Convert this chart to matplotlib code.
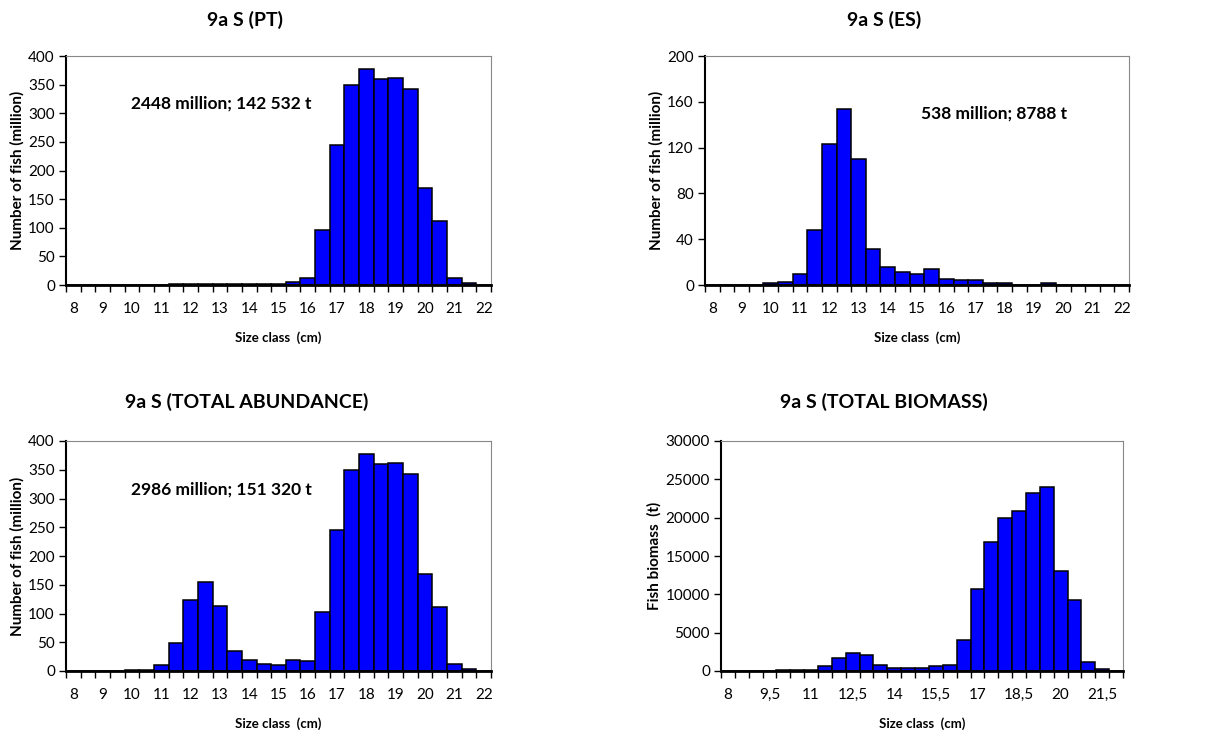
import numpy as np
import matplotlib
matplotlib.use("Agg")
import matplotlib.pyplot as plt

plt.rcParams['font.family'] = ['Lato', 'DejaVu Sans']

# size classes (cm), 0.5 cm steps
sizes = [8, 8.5, 9, 9.5, 10, 10.5, 11, 11.5, 12, 12.5, 13, 13.5, 14, 14.5, 15,
         15.5, 16, 16.5, 17, 17.5, 18, 18.5, 19, 19.5, 20, 20.5, 21, 21.5, 22]

pt_abund = [0, 0, 0, 0, 0, 0, 0, 1.5, 1.5, 1.5, 1.5, 1.5, 1.5, 1.5, 1.5,
            4.6, 12.8, 96, 244, 350, 377, 360, 362, 343, 169, 112, 13, 3, 0]
es_abund = [0, 0, 0, 0, 1.5, 3, 10, 47.7, 123.5, 153.5, 110, 31.7, 16, 11, 10,
            13.7, 5.2, 4, 4, 1.5, 1.5, 0, 0, 1.5, 0, 0, 0, 0, 0]
total_abund = [0, 0, 0, 0, 2, 2, 10.5, 49, 124, 155, 113, 34, 20, 13, 10.5,
               20, 17.5, 102, 246, 350, 377, 360, 362, 343, 169, 111.6, 13, 3, 0]
total_biomass = [0, 0, 0, 0, 150, 150, 150, 650, 1700, 2400, 2050, 785, 436, 436, 436,
                 610, 785, 4010, 10690, 16880, 19930, 20850, 23200, 23940, 13080, 9290, 1130, 220, 0]

W, H = 1232, 738
fig = plt.figure(figsize=(W / 100, H / 100), dpi=100)


def px_axes(left, top, right, bottom):
    return fig.add_axes([left / W, 1 - bottom / H, (right - left) / W, (bottom - top) / H])


def size_label(v):
    return f"{v:g}".replace('.', ',')


def draw_panel(ax, values, ymax, ystep, ylabel, label_every):
    x = np.arange(len(sizes))
    ax.bar(x, values, width=1.0, color='#0000FF', edgecolor='black', linewidth=1.1, zorder=2)
    ax.set_xlim(-0.5, len(sizes) - 0.5)
    ax.set_ylim(0, ymax)
    ax.set_yticks(np.arange(0, ymax + 1, ystep))
    # tick marks between categories, labels on the categories
    ax.set_xticks(np.arange(-0.5, len(sizes), 1.0))
    ax.set_xticklabels([])
    ax.tick_params(axis='x', which='major', length=5, width=1, direction='out')
    lab_pos = x[::label_every]
    ax.set_xticks(lab_pos, minor=True)
    ax.set_xticklabels([size_label(sizes[i]) for i in lab_pos], minor=True, fontsize=11)
    ax.tick_params(axis='x', which='minor', length=0, pad=12)
    ax.tick_params(axis='y', length=5, width=1, direction='out', labelsize=11, pad=3)
    ax.set_xlabel('Size class  (cm)', fontsize=9.5, fontweight='bold', labelpad=11)
    ax.set_ylabel(ylabel, fontsize=11, fontweight='bold', labelpad=3)
    ax.spines['left'].set_linewidth(1.5)
    ax.spines['bottom'].set_linewidth(2)
    for s in ('top', 'right'):
        ax.spines[s].set_color('#888888')
        ax.spines[s].set_linewidth(0.8)


def note(x, y, s):
    fig.text(x / W, 1 - y / H, s, va='center', fontsize=12.5, fontweight='bold')


def title(x, y, s):
    fig.text(x / W, 1 - y / H, s, ha='center', va='center', fontsize=14, fontweight='bold')


ax1 = px_axes(66, 56, 491, 285)
draw_panel(ax1, pt_abund, 400, 50, 'Number of fish (million)', 2)
note(131, 104, '2448 million; 142 532 t')
title(245, 20, '9a S (PT)')

ax2 = px_axes(705, 56, 1129, 285)
draw_panel(ax2, es_abund, 200, 40, 'Number of fish (million)', 2)
note(921, 114, '538 million; 8788 t')
title(884, 20, '9a S (ES)')

ax3 = px_axes(66, 441, 491, 671)
draw_panel(ax3, total_abund, 400, 50, 'Number of fish (million)', 2)
note(131, 490, '2986 million; 151 320 t')
title(247, 402, '9a S (TOTAL ABUNDANCE)')

ax4 = px_axes(721, 441, 1123, 671)
draw_panel(ax4, total_biomass, 30000, 5000, 'Fish biomass  (t)', 3)
title(884, 402, '9a S (TOTAL BIOMASS)')

fig.savefig('out.png', dpi=100)
